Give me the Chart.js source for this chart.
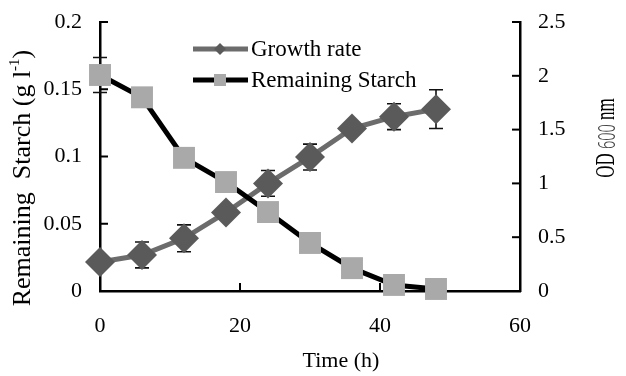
<!DOCTYPE html>
<html>
<head>
<meta charset="utf-8">
<script src="https://cdn.jsdelivr.net/npm/chart.js@4"></script>
<style>
  html, body { margin: 0; padding: 0; background: #fff; }
  #wrap { width: 626px; height: 376px; }
</style>
</head>
<body>
<div id="wrap"><canvas id="c" width="626" height="376"></canvas></div>
<script>
// time points (h)
const timePoints = [0, 6, 12, 18, 24, 30, 36, 42, 48];
// growth as OD600 (right axis) and its error
const growthOD = [0.27, 0.335, 0.49, 0.73, 1.0, 1.245, 1.51, 1.62, 1.69];
const growthErr = [0, 0.12, 0.125, 0.04, 0.12, 0.12, 0.05, 0.12, 0.18];
// remaining starch g/l (left axis) and its error
const starch = [0.1606, 0.144, 0.099, 0.081, 0.0587, 0.0357, 0.017, 0.0045, 0.0015];
const starchErr = [0.013, 0, 0, 0, 0, 0, 0, 0, 0];

const FONT = 'Liberation Serif, Times New Roman, serif';

function toPoints(vals) {
  return timePoints.map((t, i) => ({ x: t, y: vals[i] }));
}

// inward tick marks
const inwardTicks = {
  id: 'inwardTicks',
  afterDatasetsDraw(chart) {
    const ctx = chart.ctx;
    const a = chart.chartArea;
    ctx.save();
    ctx.strokeStyle = '#000';
    ctx.lineWidth = 2;
    const len = 8;
    chart.scales.y.ticks.forEach(t => {
      const py = chart.scales.y.getPixelForValue(t.value);
      ctx.beginPath(); ctx.moveTo(a.left, py); ctx.lineTo(a.left + len, py); ctx.stroke();
    });
    chart.scales.y1.ticks.forEach(t => {
      const py = chart.scales.y1.getPixelForValue(t.value);
      ctx.beginPath(); ctx.moveTo(a.right, py); ctx.lineTo(a.right - len, py); ctx.stroke();
    });
    chart.scales.x.ticks.forEach(t => {
      const px = chart.scales.x.getPixelForValue(t.value);
      ctx.beginPath(); ctx.moveTo(px, a.bottom); ctx.lineTo(px, a.bottom - len); ctx.stroke();
    });
    ctx.restore();
  }
};

// error bars, drawn under the markers
const errorBars = {
  id: 'errorBars',
  beforeDatasetDraw(chart, args) {
    const ds = chart.data.datasets[args.index];
    if (!ds.errors) return;
    const ctx = chart.ctx;
    const xs = chart.scales.x;
    const ys = chart.scales[ds.yAxisID];
    ctx.save();
    ctx.strokeStyle = '#111';
    ctx.lineWidth = 1.6;
    ds.data.forEach((p, i) => {
      const e = ds.errors[i];
      if (!e) return;
      const px = xs.getPixelForValue(p.x);
      const top = ys.getPixelForValue(p.y + e);
      const bot = ys.getPixelForValue(p.y - e);
      ctx.beginPath();
      ctx.moveTo(px, top); ctx.lineTo(px, bot);
      ctx.moveTo(px - 7, top); ctx.lineTo(px + 7, top);
      ctx.moveTo(px - 7, bot); ctx.lineTo(px + 7, bot);
      ctx.stroke();
    });
    ctx.restore();
  }
};

// axis titles and in-plot legend
const titlesAndLegend = {
  id: 'titlesAndLegend',
  afterDraw(chart) {
    const ctx = chart.ctx;
    ctx.save();
    ctx.fillStyle = '#000';
    ctx.textBaseline = 'middle';

    // x title
    ctx.font = '22px ' + FONT;
    ctx.textAlign = 'center';
    ctx.fillText('Time (h)', 341, 361);

    // left title with superscript
    ctx.save();
    ctx.translate(23, 178);
    ctx.rotate(-Math.PI / 2);
    const big = '26px ' + FONT, small = '15px ' + FONT;
    const p1 = 'Remaining  Starch (g l', sup = '-1', p2 = ')';
    ctx.font = big; const w1 = ctx.measureText(p1).width, w3 = ctx.measureText(p2).width;
    ctx.font = small; const w2 = ctx.measureText(sup).width;
    let x0 = -(w1 + w2 + w3) / 2;
    ctx.textAlign = 'left';
    ctx.font = big; ctx.fillText(p1, x0, 0);
    ctx.font = small; ctx.fillText(sup, x0 + w1, -8);
    ctx.font = big; ctx.fillText(p2, x0 + w1 + w2, 0);
    ctx.restore();

    // right title (condensed like the reference)
    ctx.save();
    ctx.translate(607, 138);
    ctx.rotate(-Math.PI / 2);
    ctx.scale(0.63, 1);
    const a = 'OD ', b = '600', c = ' nm';
    ctx.font = '27px ' + FONT; const wa = ctx.measureText(a).width, wc = ctx.measureText(c).width;
    ctx.font = '300 23px Noto Sans'; const wb = ctx.measureText(b).width;
    let s = -(wa + wb + wc) / 2;
    ctx.textAlign = 'left';
    ctx.font = '27px ' + FONT; ctx.fillText(a, s, 0);
    ctx.fillStyle = '#444'; ctx.font = '300 23px Noto Sans'; ctx.fillText(b, s + wa, 1);
    ctx.fillStyle = '#000'; ctx.font = '27px ' + FONT; ctx.fillText(c, s + wa + wb, 0);
    ctx.restore();

    // legend
    const rows = [
      { y: 49, ds: chart.data.datasets[1] },
      { y: 80, ds: chart.data.datasets[0] }
    ];
    rows.forEach(r => {
      const ds = r.ds;
      ctx.strokeStyle = ds.borderColor;
      ctx.lineWidth = ds.borderWidth;
      ctx.beginPath(); ctx.moveTo(193, r.y); ctx.lineTo(248, r.y); ctx.stroke();
      ctx.fillStyle = ds.pointBackgroundColor;
      if (ds.pointStyle === 'rectRot') {
        ctx.beginPath();
        ctx.moveTo(220, r.y - 6); ctx.lineTo(226, r.y); ctx.lineTo(220, r.y + 6); ctx.lineTo(214, r.y);
        ctx.closePath(); ctx.fill();
      } else {
        ctx.fillRect(214, r.y - 6, 12, 12);
      }
      ctx.fillStyle = '#000';
      ctx.font = '23px ' + FONT;
      ctx.textAlign = 'left';
      ctx.fillText(ds.label, 251, r.y + 1);
    });
    ctx.restore();
  }
};

new Chart(document.getElementById('c').getContext('2d'), {
  type: 'line',
  data: {
    datasets: [
      {
        label: 'Remaining Starch',
        data: toPoints(starch),
        errors: starchErr,
        yAxisID: 'y',
        borderColor: '#000',
        borderWidth: 5,
        pointStyle: 'rect',
        pointRadius: 15.5,
        pointBackgroundColor: '#a9a9a9',
        pointBorderWidth: 0,
        pointBorderColor: '#a9a9a9',
        tension: 0,
        clip: false
      },
      {
        label: 'Growth rate',
        data: toPoints(growthOD),
        errors: growthErr,
        yAxisID: 'y1',
        borderColor: '#6c6c6c',
        borderWidth: 5,
        pointStyle: 'rectRot',
        pointRadius: 15,
        pointBackgroundColor: '#5a5a5a',
        pointBorderWidth: 0,
        pointBorderColor: '#5a5a5a',
        tension: 0,
        clip: false
      }
    ]
  },
  options: {
    responsive: false,
    animation: false,
    layout: { padding: { top: 22, left: 0, right: 0, bottom: 0 } },
    plugins: { legend: { display: false }, tooltip: { enabled: false } },
    scales: {
      x: {
        type: 'linear',
        position: 'bottom',
        min: 0, max: 60,
        afterFit: s => { s.height = 85; s.paddingLeft = 0; s.paddingRight = 0; },
        grid: { display: false, drawTicks: false },
        border: { display: true, color: '#000', width: 2.5 },
        ticks: { stepSize: 20, padding: 22, color: '#000', font: { family: FONT, size: 22 } }
      },
      y: {
        position: 'left',
        min: 0, max: 0.2,
        afterFit: s => { s.width = 100; s.paddingTop = 0; s.paddingBottom = 0; },
        grid: { display: false, drawTicks: false },
        border: { display: true, color: '#000', width: 2.5 },
        ticks: {
          stepSize: 0.05, padding: 18, color: '#000', font: { family: FONT, size: 22 },
          callback: v => String(Number(v.toFixed(2)))
        }
      },
      y1: {
        position: 'right',
        min: 0, max: 2.5,
        afterFit: s => { s.width = 106; s.paddingTop = 0; s.paddingBottom = 0; },
        grid: { display: false, drawTicks: false },
        border: { display: true, color: '#000', width: 2.5 },
        ticks: {
          stepSize: 0.5, padding: 18, color: '#000', font: { family: FONT, size: 22 },
          callback: v => String(Number(v.toFixed(1)))
        }
      }
    }
  },
  plugins: [errorBars, inwardTicks, titlesAndLegend]
});
</script>
</body>
</html>
